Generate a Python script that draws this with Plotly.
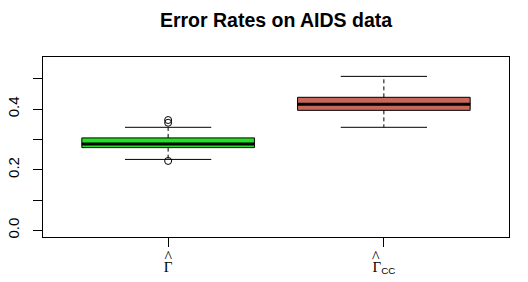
import plotly.graph_objects as go

# ---- data ----
groups = ["Gamma", "Gamma_CC"]
tick_labels = ["<span style='font-size:16px'>^</span><br><span style='font-size:15px'>Γ</span>",
               "<span style='font-size:16px'>^\u2007\u2007</span><br><span style='font-size:15px'>Γ</span>"
               "<span style='font-size:14px;font-family:Liberation Sans'><sub>CC</sub></span>"]
positions = [1, 2]
q1 = [0.273, 0.396]
median = [0.285, 0.416]
q3 = [0.305, 0.439]
whisker_low = [0.234, 0.340]
whisker_high = [0.340, 0.508]
outliers = [[0.229, 0.355, 0.364], []]
fill_colors = ["#22e022", "#c8675a"]

y_ticks = [0.0, 0.1, 0.2, 0.3, 0.4, 0.5]
y_tick_text = ["0.0", "", "0.2", "", "0.4", ""]

BOX_W = 0.8
CAP_W = 0.4

fig = go.Figure()
for i, g in enumerate(groups):
    x = positions[i]
    fig.add_trace(go.Box(
        x=[x], q1=[q1[i]], median=[median[i]], q3=[q3[i]],
        lowerfence=[q1[i]], upperfence=[q3[i]],
        width=BOX_W, whiskerwidth=0,
        fillcolor=fill_colors[i], line=dict(color="black", width=1),
        boxpoints=False, showlegend=False, hoverinfo="skip",
    ))
    fig.add_trace(go.Scatter(
        x=[x, x, None, x, x], y=[q3[i], whisker_high[i], None, q1[i], whisker_low[i]],
        mode="lines", line=dict(color="black", width=1, dash="4px,3px"),
        showlegend=False, hoverinfo="skip",
    ))
    fig.add_trace(go.Scatter(
        x=[x - CAP_W / 2, x + CAP_W / 2, None, x - CAP_W / 2, x + CAP_W / 2],
        y=[whisker_high[i], whisker_high[i], None, whisker_low[i], whisker_low[i]],
        mode="lines", line=dict(color="black", width=1),
        showlegend=False, hoverinfo="skip",
    ))
    fig.add_trace(go.Scatter(
        x=[x - BOX_W / 2, x + BOX_W / 2], y=[median[i], median[i]],
        mode="lines", line=dict(color="black", width=3),
        showlegend=False, hoverinfo="skip",
    ))
    if outliers[i]:
        fig.add_trace(go.Scatter(
            x=[x] * len(outliers[i]), y=outliers[i], mode="markers",
            marker=dict(symbol="circle-open", size=7, color="black", line=dict(width=1)),
            showlegend=False, hoverinfo="skip",
        ))

fig.update_layout(
    width=528, height=282,
    margin=dict(l=43, r=19, t=57, b=45),
    paper_bgcolor="white", plot_bgcolor="white",
    font=dict(family="Liberation Sans, Arial", size=15, color="black"),
    title=dict(text="<b>Error Rates on AIDS data</b>", x=276 / 528, xanchor="center",
               y=1 - 20 / 282, yanchor="middle", font=dict(size=19.5)),
    xaxis=dict(range=[0.42, 2.58], tickmode="array", tickvals=positions, ticktext=tick_labels,
               showgrid=False, zeroline=False, showline=True, mirror=True, automargin=False,
               linecolor="black", linewidth=1, ticks="outside", ticklen=9,
               tickcolor="black", ticklabelstandoff=7,
               tickfont=dict(size=7, family="Liberation Serif")),
    yaxis=dict(range=[-0.022, 0.572], tickmode="array", tickvals=y_ticks, ticktext=y_tick_text,
               showgrid=False, zeroline=False, showline=True, mirror=True, automargin=False,
               linecolor="black", linewidth=1, ticks="outside", ticklen=9,
               tickcolor="black", tickangle=-90, ticklabelstandoff=8),
)

fig.write_html("out.html", config={"displayModeBar": False},
               post_script="document.body.style.margin='0px';")
